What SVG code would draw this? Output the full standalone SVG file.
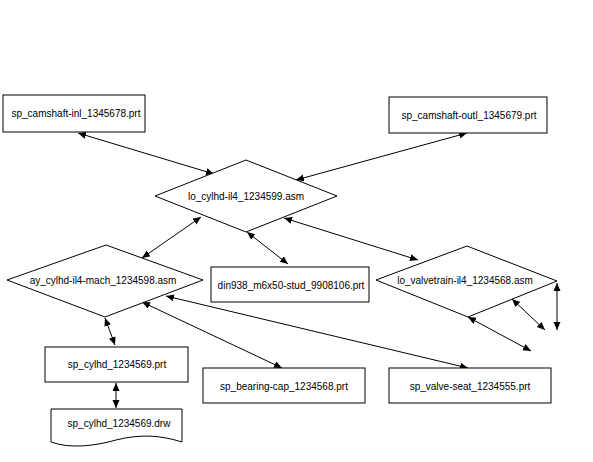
<svg xmlns="http://www.w3.org/2000/svg" width="593" height="462" viewBox="0 0 593 462">
<style>
.n{fill:#fff;stroke:#000;stroke-width:1}
.t{font-family:"Liberation Sans",Arial,sans-serif;font-size:10px;fill:#000;text-anchor:middle;dominant-baseline:central}
.e{stroke:#000;stroke-width:1;fill:none;marker-start:url(#ah);marker-end:url(#ah)}
</style>
<defs>
<marker id="ah" markerUnits="userSpaceOnUse" markerWidth="9" markerHeight="8" refX="8" refY="3.5" orient="auto-start-reverse">
<path d="M0,0 L8,3.5 L0,7 Z" fill="#000"/>
</marker>
</defs>
<rect width="593" height="462" fill="#fff"/>
<g id="connectors">
<line class="e" x1="78" y1="133" x2="214" y2="174"/>
<line class="e" x1="467" y1="133" x2="296" y2="180"/>
<line class="e" x1="201" y1="217" x2="142" y2="258"/>
<line class="e" x1="247" y1="232" x2="288" y2="264"/>
<line class="e" x1="284" y1="218" x2="418" y2="260"/>
<line class="e" x1="105" y1="318" x2="115" y2="345"/>
<line class="e" x1="116" y1="383" x2="116" y2="408"/>
<line class="e" x1="142" y1="302" x2="282" y2="368"/>
<line class="e" x1="166" y1="296" x2="468" y2="368"/>
<line class="e" x1="468" y1="317" x2="531" y2="351"/>
<line class="e" x1="512" y1="299" x2="545" y2="330"/>
<line class="e" x1="557" y1="283" x2="557" y2="330"/>
</g>
<g id="n1"><rect class="n" x="3" y="95" width="142" height="37"/><text class="t" x="76" y="113">sp_camshaft-inl_1345678.prt</text></g>
<g id="n2"><rect class="n" x="389" y="97" width="158" height="36"/><text class="t" x="469" y="115">sp_camshaft-outl_1345679.prt</text></g>
<g id="n3"><polygon class="n" points="155,196 246,160 337,196 246,232"/><text class="t" x="246" y="196">lo_cylhd-il4_1234599.asm</text></g>
<g id="n4"><polygon class="n" points="7,280 106,245 203,280 105,317"/><text class="t" x="103" y="280">ay_cylhd-il4-mach_1234598.asm</text></g>
<g id="n5"><rect class="n" x="211" y="267" width="158" height="35"/><text class="t" x="291" y="285">din938_m6x50-stud_9908106.prt</text></g>
<g id="n6"><polygon class="n" points="376,280 467,246 557,281 468,317"/><text class="t" x="465" y="280">lo_valvetrain-il4_1234568.asm</text></g>
<g id="n7"><rect class="n" x="45" y="347" width="143" height="35"/><text class="t" x="117" y="364">sp_cylhd_1234569.prt</text></g>
<g id="n8"><path class="n" d="M51,409 L182,409 L182,442 C160,435 140,434 116,440 C95,446 70,449 51,442 Z"/><text class="t" x="119" y="423">sp_cylhd_1234569.drw</text></g>
<g id="n9"><rect class="n" x="203" y="368" width="162" height="35"/><text class="t" x="284" y="386">sp_bearing-cap_1234568.prt</text></g>
<g id="n10"><rect class="n" x="389" y="368" width="162" height="35"/><text class="t" x="470" y="386">sp_valve-seat_1234555.prt</text></g>
</svg>
